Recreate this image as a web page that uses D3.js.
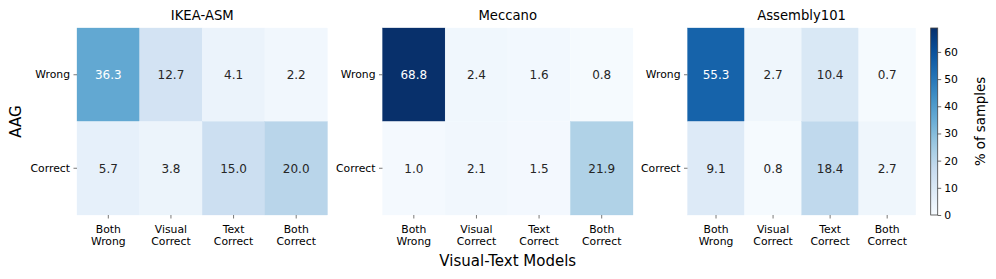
<!DOCTYPE html>
<html>
<head>
<meta charset="utf-8">
<script src="https://cdn.jsdelivr.net/npm/d3@7"></script>
<style>
  body { margin: 0; background: #fff; }
  svg, svg text { font-family: "DejaVu Sans", sans-serif; }
</style>
</head>
<body>
<div id="chart"></div>
<script>
// data
const datasets = ['IKEA-ASM', 'Meccano', 'Assembly101'];
const colLabels = [['Both', 'Wrong'], ['Visual', 'Correct'], ['Text', 'Correct'], ['Both', 'Correct']];
const rowLabels = ['Wrong', 'Correct'];
const ikeaValues = [[36.3, 12.7, 4.1, 2.2], [5.7, 3.8, 15.0, 20.0]];
const meccanoValues = [[68.8, 2.4, 1.6, 0.8], [1.0, 2.1, 1.5, 21.9]];
const assemblyValues = [[55.3, 2.7, 10.4, 0.7], [9.1, 0.8, 18.4, 2.7]];
const colorbarTicks = [0, 10, 20, 30, 40, 50, 60];
const vmax = 68.8;

const allValues = [ikeaValues, meccanoValues, assemblyValues];

const width = 996, height = 279;
const plotTop = 28, plotBottom = 215;
const panels = [[77, 327.5], [382.5, 633], [687.5, 915.7]];
const font = '"DejaVu Sans", sans-serif';
const tickFont = 10.8;

// matplotlib "Blues" (linear between colorbrewer stops)
const blues = ['#f7fbff', '#deebf7', '#c6dbef', '#9ecae1', '#6baed6', '#4292c6', '#2171b5', '#08519c', '#08306b'];
const color = d3.scaleLinear()
    .domain(blues.map((_, i) => i / (blues.length - 1) * vmax))
    .range(blues)
    .interpolate(d3.interpolateRgb)
    .clamp(true);

function textColor(c) {
    const rgb = d3.rgb(c);
    const lin = v => { v /= 255; return v <= 0.03928 ? v / 12.92 : Math.pow((v + 0.055) / 1.055, 2.4); };
    const lum = 0.2126 * lin(rgb.r) + 0.7152 * lin(rgb.g) + 0.0722 * lin(rgb.b);
    return lum > 0.408 ? '#262626' : '#ffffff';
}

const svg = d3.select('#chart').append('svg')
    .attr('width', width)
    .attr('height', height);

const y = d3.scaleBand().domain(rowLabels).range([plotTop, plotBottom]);

datasets.forEach((name, p) => {
    const x = d3.scaleBand().domain(d3.range(colLabels.length)).range(panels[p]);
    const g = svg.append('g');
    const values = allValues[p];

    const cells = [];
    values.forEach((row, r) => row.forEach((v, c) => cells.push({ r, c, v })));

    g.selectAll('rect').data(cells).join('rect')
        .attr('x', d => x(d.c))
        .attr('y', d => y(rowLabels[d.r]))
        .attr('width', x.bandwidth())
        .attr('height', y.bandwidth())
        .attr('fill', d => color(d.v))
        .attr('stroke', d => color(d.v))
        .attr('stroke-width', 0.3);

    g.selectAll('text.annot').data(cells).join('text')
        .attr('class', 'annot')
        .attr('x', d => x(d.c) + x.bandwidth() / 2)
        .attr('y', d => y(rowLabels[d.r]) + y.bandwidth() / 2)
        .attr('dy', '0.36em')
        .attr('text-anchor', 'middle')
        .attr('font-size', 12)
        .attr('fill', d => textColor(color(d.v)))
        .text(d => d.v.toFixed(1));

    // title
    g.append('text')
        .attr('x', (panels[p][0] + panels[p][1]) / 2)
        .attr('y', 20)
        .attr('text-anchor', 'middle')
        .attr('font-size', 13.2)
        .attr('fill', '#000')
        .text(name);

    // y axis
    const yAxis = g.append('g')
        .attr('transform', `translate(${panels[p][0]},0)`)
        .call(d3.axisLeft(y).tickSize(3.5).tickPadding(3.5))
        .attr('font-family', font)
        .attr('font-size', tickFont);
    yAxis.select('.domain').remove();
    yAxis.selectAll('.tick line').attr('stroke', '#555').attr('stroke-width', 0.8);
    yAxis.selectAll('.tick text').attr('fill', '#000');

    // x axis
    const xAxis = g.append('g')
        .attr('transform', `translate(0,${plotBottom})`)
        .call(d3.axisBottom(x).tickSize(3.5).tickFormat(''))
        .attr('font-family', font)
        .attr('font-size', tickFont);
    xAxis.select('.domain').remove();
    xAxis.selectAll('.tick line').attr('stroke', '#555').attr('stroke-width', 0.8);
    xAxis.selectAll('.tick').each(function (i) {
        const t = d3.select(this).append('text')
            .attr('text-anchor', 'middle')
            .attr('fill', '#000');
        colLabels[i].forEach((line, k) => {
            t.append('tspan').attr('x', 0).attr('y', 18 + k * 12.4).text(line);
        });
    });
});

// axis labels
svg.append('text')
    .attr('x', (panels[1][0] + panels[1][1]) / 2)
    .attr('y', 266)
    .attr('text-anchor', 'middle')
    .attr('font-size', 15)
    .attr('fill', '#000')
    .text('Visual-Text Models');

svg.append('text')
    .attr('transform', `translate(21,${(plotTop + plotBottom) / 2}) rotate(-90)`)
    .attr('text-anchor', 'middle')
    .attr('font-size', 15)
    .attr('fill', '#000')
    .text('AAG');

// colorbar
const cbX = 930.7, cbW = 7;
const cbScale = d3.scaleLinear().domain([0, vmax]).range([plotBottom, plotTop]);
const defs = svg.append('defs');
const grad = defs.append('linearGradient')
    .attr('id', 'cbgrad')
    .attr('x1', 0).attr('y1', 1).attr('x2', 0).attr('y2', 0);
grad.selectAll('stop').data(d3.range(0, 1.0001, 0.05)).join('stop')
    .attr('offset', d => d)
    .attr('stop-color', d => color(d * vmax));

svg.append('rect')
    .attr('x', cbX).attr('y', plotTop)
    .attr('width', cbW).attr('height', plotBottom - plotTop)
    .attr('fill', 'url(#cbgrad)')
    .attr('stroke', '#444')
    .attr('stroke-width', 0.8);

const cbAxis = svg.append('g')
    .attr('transform', `translate(${cbX + cbW},0)`)
    .call(d3.axisRight(cbScale).tickValues(colorbarTicks).tickSize(3.5).tickPadding(3))
    .attr('font-family', font)
    .attr('font-size', tickFont);
cbAxis.select('.domain').remove();
cbAxis.selectAll('.tick line').attr('stroke', '#444').attr('stroke-width', 0.8);
cbAxis.selectAll('.tick text').attr('fill', '#000');

svg.append('text')
    .attr('transform', `translate(985,${(plotTop + plotBottom) / 2}) rotate(-90)`)
    .attr('text-anchor', 'middle')
    .attr('font-size', 13.3)
    .attr('fill', '#000')
    .text('% of samples');
</script>
</body>
</html>
